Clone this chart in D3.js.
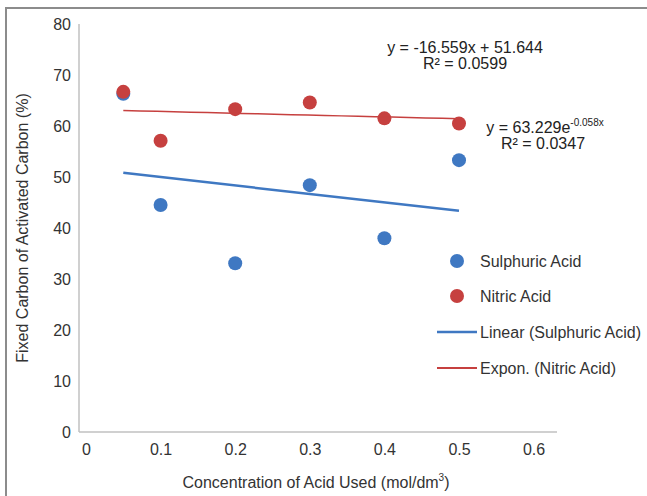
<!DOCTYPE html>
<html>
<head>
<meta charset="utf-8">
<script src="https://cdn.jsdelivr.net/npm/d3@7"></script>
<style>
  body { margin: 0; background: #fff; }
  svg { display: block; font-family: "Liberation Sans", Arial, sans-serif; }
  .tick text { fill: #333; font-size: 16px; }
</style>
</head>
<body>
<div class="one"></div>
<script>
// concentration (mol/dm3)
let concentration = [0.05, 0.1, 0.2, 0.3, 0.4, 0.5];
let sulphuric = [66.3, 44.5, 33.1, 48.4, 38.0, 53.3];
let nitric = [66.7, 57.1, 63.3, 64.6, 61.5, 60.5];

let xTicks = [0, 0.1, 0.2, 0.3, 0.4, 0.5, 0.6];
let yTicks = [0, 10, 20, 30, 40, 50, 60, 70, 80];

// trendline coefficients as printed on the chart
let linearCoef = [-16.559, 51.644];   // slope, intercept
let exponCoef = [63.229, -0.058];     // a, b  (y = a e^(b x))

let seriesNames = ["Sulphuric Acid", "Nitric Acid", "Linear (Sulphuric Acid)", "Expon. (Nitric Acid)"];

let blue = "#3f78c2", red = "#c6403f";

let draw = function() {
  let width = 647, height = 496;

  let svg = d3.select(".one").append("svg")
    .attr("width", width)
    .attr("height", height);

  // frame round the figure
  svg.append("path")
    .attr("d", "M6,496 V8 H647")
    .attr("fill", "none")
    .attr("stroke", "#8c8c8c")
    .attr("stroke-width", 2);

  let xScale = d3.scaleLinear().domain([0, 0.6]).range([86, 533.6]);
  let yScale = d3.scaleLinear().domain([0, 80]).range([432, 24]);

  let xAxis = d3.axisBottom(xScale).tickValues(xTicks).tickSize(0).tickPadding(12)
    .tickFormat(d => d === 0 ? "0" : d3.format(".1f")(d));
  let yAxis = d3.axisLeft(yScale).tickValues(yTicks).tickSize(0).tickPadding(8);

  svg.append("g")
    .attr("transform", "translate(0," + yScale(0) + ")")
    .call(xAxis)
    .select(".domain").remove();

  svg.append("g")
    .attr("transform", "translate(79,0)")
    .call(yAxis)
    .select(".domain").remove();

  // axis lines
  svg.append("line")
    .attr("x1", 79).attr("x2", 79)
    .attr("y1", yScale(80)).attr("y2", yScale(0))
    .attr("stroke", "#c0c0c0").attr("stroke-width", 1.5);
  svg.append("line")
    .attr("x1", 79).attr("x2", 557)
    .attr("y1", yScale(0)).attr("y2", yScale(0))
    .attr("stroke", "#c0c0c0").attr("stroke-width", 1.5);

  // axis titles
  let xt = svg.append("text")
    .attr("x", 316).attr("y", 488)
    .attr("text-anchor", "middle")
    .attr("font-size", 16).attr("fill", "#333");
  xt.append("tspan").text("Concentration of Acid Used (mol/dm");
  xt.append("tspan").attr("font-size", 10).attr("dy", -7).text("3");
  xt.append("tspan").attr("dy", 7).text(")");

  svg.append("text")
    .attr("transform", "translate(28," + yScale(40) + ") rotate(-90)")
    .attr("text-anchor", "middle")
    .attr("font-size", 16).attr("fill", "#333")
    .text("Fixed Carbon of Activated Carbon (%)");

  // trendlines
  let xMin = d3.min(concentration), xMax = d3.max(concentration);
  let linPts = [xMin, xMax].map(x => [x, linearCoef[0] * x + linearCoef[1]]);
  let expPts = d3.range(0, 21).map(i => {
    let x = xMin + (xMax - xMin) * i / 20;
    return [x, exponCoef[0] * Math.exp(exponCoef[1] * x)];
  });

  let line = d3.line()
    .x(d => xScale(d[0]))
    .y(d => yScale(d[1]));

  // points
  let pts = function(vals, color) {
    svg.append("g").selectAll("circle")
      .data(concentration.map((c, i) => [c, vals[i]]))
      .join("circle")
      .attr("cx", d => xScale(d[0]))
      .attr("cy", d => yScale(d[1]))
      .attr("r", 7)
      .attr("fill", color);
  };
  pts(sulphuric, blue);
  pts(nitric, red);

  svg.append("path").datum(linPts)
    .attr("d", line).attr("fill", "none")
    .attr("stroke", blue).attr("stroke-width", 2.5);
  svg.append("path").datum(expPts)
    .attr("d", line).attr("fill", "none")
    .attr("stroke", red).attr("stroke-width", 1.5);

  // equation labels
  let eq = svg.append("g").attr("font-size", 16).attr("fill", "#222").attr("text-anchor", "middle");
  eq.append("text").attr("x", 465).attr("y", 53)
    .text("y = " + linearCoef[0] + "x + " + linearCoef[1]);
  eq.append("text").attr("x", 465).attr("y", 69).text("R² = 0.0599");

  let e2 = eq.append("text").attr("x", 545).attr("y", 133);
  e2.append("tspan").text("y = " + exponCoef[0] + "e");
  e2.append("tspan").attr("font-size", 10).attr("dy", -7).text(exponCoef[1] + "x");
  eq.append("text").attr("x", 543).attr("y", 149).text("R² = 0.0347");

  // legend
  let legend = svg.append("g").attr("font-size", 16).attr("fill", "#333");
  let rowY = [261, 296, 332, 368];
  seriesNames.forEach((name, i) => {
    let col = i % 2 === 0 ? blue : red;
    if (i < 2) {
      legend.append("circle").attr("cx", 457).attr("cy", rowY[i]).attr("r", 7).attr("fill", col);
    } else {
      legend.append("line").attr("x1", 437).attr("x2", 477)
        .attr("y1", rowY[i]).attr("y2", rowY[i])
        .attr("stroke", col).attr("stroke-width", i === 2 ? 2.5 : 2);
    }
    legend.append("text").attr("x", 480).attr("y", rowY[i] + 6).text(name);
  });
};

window.onload = draw;
</script>
</body>
</html>
